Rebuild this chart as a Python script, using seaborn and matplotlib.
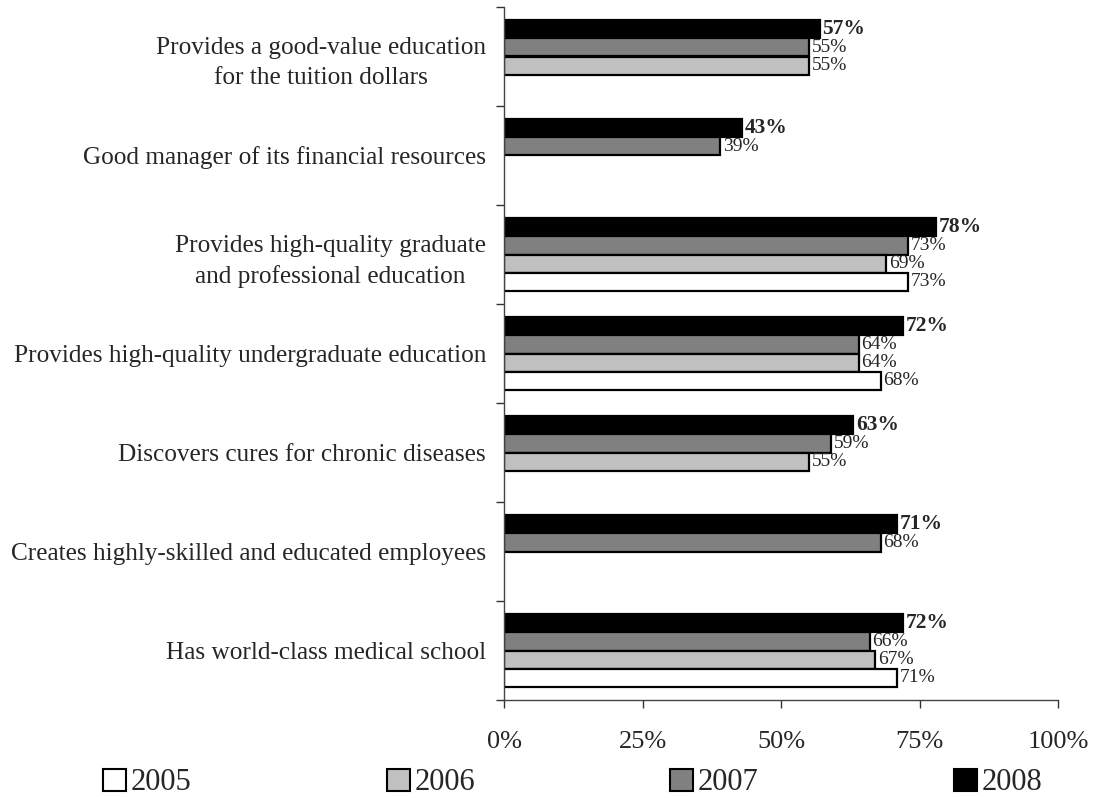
import numpy as np
import pandas as pd
import matplotlib
matplotlib.use("Agg")
import matplotlib.pyplot as plt
from matplotlib.patches import Patch
import seaborn as sns

sns.set_style("white")
plt.rcParams['font.family'] = ['Liberation Serif', 'DejaVu Serif']

categories = [
    "Provides a good-value education\nfor the tuition dollars",
    "Good manager of its financial resources",
    "Provides high-quality graduate\nand professional education",
    "Provides high-quality undergraduate education",
    "Discovers cures for chronic diseases",
    "Creates highly-skilled and educated employees",
    "Has world-class medical school",
]
years = ["2008", "2007", "2006", "2005"]
v2008 = [57, 43, 78, 72, 63, 71, 72]
v2007 = [55, 39, 73, 64, 59, 68, 66]
v2006 = [55, np.nan, 69, 64, 55, np.nan, 67]
v2005 = [np.nan, np.nan, 73, 68, np.nan, np.nan, 71]
colors = {"2008": "#000000", "2007": "#808080", "2006": "#c0c0c0", "2005": "#ffffff"}

rows = []
for yr, vals in zip(years, [v2008, v2007, v2006, v2005]):
    for cat, v in zip(categories, vals):
        rows.append({"category": cat, "year": yr, "value": v})
df = pd.DataFrame(rows).dropna()

fig = plt.figure(figsize=(10.93, 7.98), dpi=100)
ax = fig.add_axes([504 / 1093, 1 - 700 / 798, 554 / 1093, 693 / 798])

sns.barplot(data=df, x="value", y="category", hue="year", order=categories,
            hue_order=years, palette=colors, orient="h", width=0.74,
            edgecolor="black", linewidth=1.6, legend=False, ax=ax, errorbar=None)

# value labels
for yr, cont in zip(years, ax.containers):
    bold = yr == "2008"
    ax.bar_label(cont, fmt="{:.0f}%", padding=2,
                 fontsize=15.5 if bold else 14,
                 fontweight="bold" if bold else "normal")

ax.set_xlim(0, 100)
ax.set_ylim(len(categories) - 0.5, -0.5)
ax.set_xticks([0, 25, 50, 75, 100])
ax.set_xticklabels(["0%", "25%", "50%", "75%", "100%"], fontsize=19)
ax.set_xlabel("")
ax.set_ylabel("")

# ticks between categories, labels at the centres
ax.set_yticks(np.arange(-0.5, len(categories), 1.0))
ax.set_yticklabels([])
ax.set_yticks(np.arange(len(categories)), minor=True)
ax.set_yticklabels(categories, minor=True, fontsize=18.2, multialignment="center", linespacing=1.45)
ax.tick_params(axis="y", which="major", direction="out", length=6, width=1, left=True, color="#333333")
ax.tick_params(axis="y", which="minor", length=0, pad=13)
ax.tick_params(axis="x", direction="out", length=6, width=1, bottom=True, pad=16, color="#333333")

sns.despine(ax=ax, top=True, right=True)
for s in ["left", "bottom"]:
    ax.spines[s].set_color("#444444")
    ax.spines[s].set_linewidth(1)

handles = [Patch(facecolor=colors[y], edgecolor="black", linewidth=1.5) for y in ["2005", "2006", "2007", "2008"]]
fig.legend(handles, ["2005", "2006", "2007", "2008"], loc="center",
           bbox_to_anchor=(0.524, 1 - 783 / 798), ncol=4, frameon=False,
           fontsize=22, handlelength=0.75, handleheight=0.75,
           handletextpad=0.15, columnspacing=6.4)

fig.savefig("out.png", dpi=100)
